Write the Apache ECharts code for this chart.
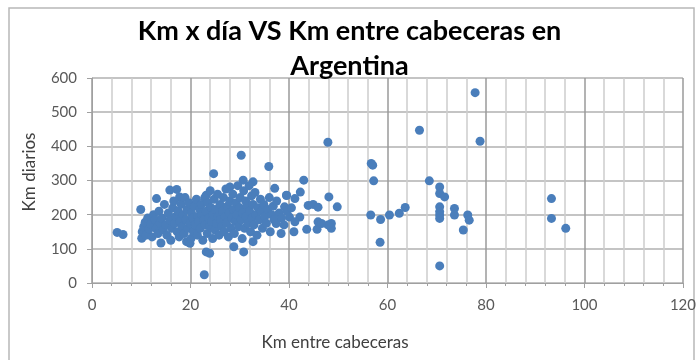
<!DOCTYPE html>
<html>
<head>
<meta charset="utf-8">
<script src="https://cdn.jsdelivr.net/npm/echarts@6/dist/echarts.min.js"></script>
<style>
  html, body { margin: 0; padding: 0; background: #fff; }
  #chart { width: 699px; height: 360px; }
</style>
</head>
<body>
<div id="chart"></div>
<script>
// Km entre cabeceras (x) y Km diarios (y) por línea
const kmCabeceras = [
  5.1, 6.3, 9.9, 10.1, 14.0, 13.1, 15.8, 17.2, 17.8, 19.2, 19.9, 23.2, 22.8, 23.2, 23.9, 24.7, 28.8, 30.8, 32.7, 30.3,
  35.9, 37.1, 39.5, 30.7, 32.7, 28.0, 37.4, 38.4, 39.1, 41.0,
  77.8, 78.8, 66.5, 47.9, 56.7, 57.0, 57.2, 68.5, 70.6, 70.6, 71.6, 70.6, 73.6, 70.6, 73.6, 70.6, 70.6, 76.3, 76.6, 75.4,
  70.6, 58.5, 56.6, 58.6, 60.4, 62.4, 63.6, 43.0, 48.1, 49.8, 48.6, 48.6, 47.9, 43.6, 45.7, 43.9, 44.9, 45.9, 45.9, 46.6,
  42.3, 39.5, 41.2, 40.1, 42.2, 41.2, 93.3, 93.3, 96.2,
  10.2, 10.5, 10.8, 11.0, 11.3, 11.6, 12.0, 12.2, 12.5, 12.8, 13.0, 13.4, 13.6, 13.8,
  14.2, 14.5, 14.7, 15.0, 15.2, 15.5, 15.8, 16.0, 16.2, 16.4, 16.6, 16.8, 17.0, 17.3, 17.5, 17.7, 17.9, 18.1,
  18.3, 18.5, 18.7, 18.9, 19.1, 19.3, 19.5, 19.7, 19.9, 20.1, 20.2, 20.4, 20.6, 20.8, 21.0, 21.2, 21.4, 21.5, 21.7, 21.9,
  22.0, 22.2, 22.3, 22.5, 22.7, 22.9, 23.0, 23.2, 23.4, 23.5, 23.7, 23.9, 24.0, 24.2, 24.3, 24.5, 24.6, 24.8, 25.0, 25.1,
  25.3, 25.5, 25.6, 25.8,
  26.0, 26.1, 26.3, 26.5, 26.7, 26.8, 27.0, 27.2, 27.3, 27.5, 27.7, 27.9, 28.0, 28.2, 28.4, 28.6, 28.7, 28.9, 29.1, 29.3,
  29.4, 29.6, 29.8,
  30.0, 30.1, 30.3, 30.5, 30.6, 30.8, 31.0, 31.2, 31.3, 31.5, 31.7, 31.9, 32.0, 32.2, 32.4, 32.5, 32.7, 32.9, 33.1, 33.3,
  33.5, 33.7,
  34.0, 34.2, 34.4, 34.6, 34.9, 35.1, 35.4, 35.7, 36.0, 36.2, 36.5, 36.8, 37.0, 37.5, 38.0, 38.5, 39.0, 39.6, 40.5
];
const kmDiarios = [
  148, 142, 215, 131, 117, 247, 272, 274, 252, 121, 116, 257, 24, 91, 87, 320, 106, 91, 121, 374,
  341, 277, 257, 301, 296, 281, 174, 145, 223, 150,
  557, 415, 447, 412, 350, 345, 299, 299, 281, 262, 252, 223, 218, 209, 199, 199, 189, 199, 184, 155,
  50, 119, 199, 186, 199, 204, 221, 301, 252, 223, 174, 160, 170, 157, 157, 227, 230, 222, 179, 174,
  266, 256, 247, 193, 193, 179, 247, 189, 160,
  150, 165, 178, 140, 190, 158, 172, 135, 200, 185, 160, 145, 210, 175,
  190, 155, 230, 170, 140, 205, 185, 125, 160, 220, 240, 175, 195, 150, 210, 135, 180, 230,
  165, 200, 145, 250, 185, 215, 160, 235, 175, 130, 205, 190, 150, 225, 170, 245, 140, 195, 180, 215,
  160, 230, 200, 125, 185, 250, 170, 210, 145, 235, 190, 165, 270, 220, 180, 130, 200, 245, 155, 215,
  175, 260, 195, 140,
  230, 185, 165, 210, 250, 150, 195, 275, 175, 225, 135, 205, 240, 160, 190, 260, 215, 145, 180, 235,
  200, 285, 165,
  220, 250, 185, 130, 205, 270, 160, 240, 195, 225, 175, 285, 210, 150, 255, 190, 230, 170, 265, 200,
  140, 220,
  185, 245, 210, 160, 230, 195, 175, 215, 250, 150, 200, 225, 185, 240, 205, 190, 170, 210, 220
];
const xTicks = { min: 0, max: 120, step: 20 };
const yTicks = { min: 0, max: 600, step: 100 };

const points = kmCabeceras.map((x, i) => [x, kmDiarios[i]]);

const chart = echarts.init(document.getElementById('chart'), null, { renderer: 'canvas' });
const font = 'Lato, "Liberation Sans", sans-serif';

chart.setOption({
  animation: false,
  backgroundColor: '#ffffff',
  grid: { left: 92, right: 15, top: 78, bottom: 77, containLabel: false },
  xAxis: {
    type: 'value',
    min: xTicks.min, max: xTicks.max, interval: xTicks.step,
    axisLine: { show: true, onZero: false, lineStyle: { color: '#a0a0a0', width: 1 } },
    axisTick: { show: true, length: 5, lineStyle: { color: '#a0a0a0' } },
    minorTick: { show: true, splitNumber: 5, length: 3, lineStyle: { color: '#a0a0a0' } },
    splitLine: { show: true, lineStyle: { color: '#9a9a9a', width: 1.5 } },
    minorSplitLine: { show: true, lineStyle: { color: '#cdcdcd', width: 1.5 } },
    axisLabel: { color: '#595959', fontFamily: font, fontSize: 15, margin: 15 }
  },
  yAxis: {
    type: 'value',
    min: yTicks.min, max: yTicks.max, interval: yTicks.step,
    axisLine: { show: true, onZero: false, lineStyle: { color: '#a0a0a0', width: 1 } },
    axisTick: { show: true, length: 5, lineStyle: { color: '#a0a0a0' } },
    splitLine: { show: true, lineStyle: { color: '#c4c4c4', width: 2 } },
    axisLabel: { color: '#595959', fontFamily: font, fontSize: 15, margin: 15 }
  },
  series: [{
    type: 'scatter',
    data: points,
    symbol: 'circle',
    symbolSize: 9,
    itemStyle: { color: '#4a7ebb', opacity: 1 },
    z: 3
  }],
  graphic: [
    {
      type: 'rect', silent: true, z: -1,
      shape: { x: 9, y: 8, width: 685, height: 400 },
      style: { fill: 'none', stroke: '#b8b8b8', lineWidth: 1.5 }
    },
    {
      type: 'text', left: 'center', top: 18, z: 10,
      style: { text: 'Km x día VS Km entre cabeceras en', font: 'bold 27px ' + font, fill: '#000', textAlign: 'center' }
    },
    {
      type: 'text', left: 'center', top: 53, z: 10,
      style: { text: 'Argentina', font: 'bold 27px ' + font, fill: '#000', textAlign: 'center' }
    },
    {
      type: 'text', x: 335, y: 343, z: 10,
      style: { text: 'Km entre cabeceras', font: '17px ' + font, fill: '#404040', textAlign: 'center', textVerticalAlign: 'middle' }
    },
    {
      type: 'text', x: 30, y: 172, rotation: Math.PI / 2, z: 10,
      style: { text: 'Km diarios', font: '17px ' + font, fill: '#404040', textAlign: 'center', textVerticalAlign: 'middle' }
    }
  ]
});
</script>
</body>
</html>
